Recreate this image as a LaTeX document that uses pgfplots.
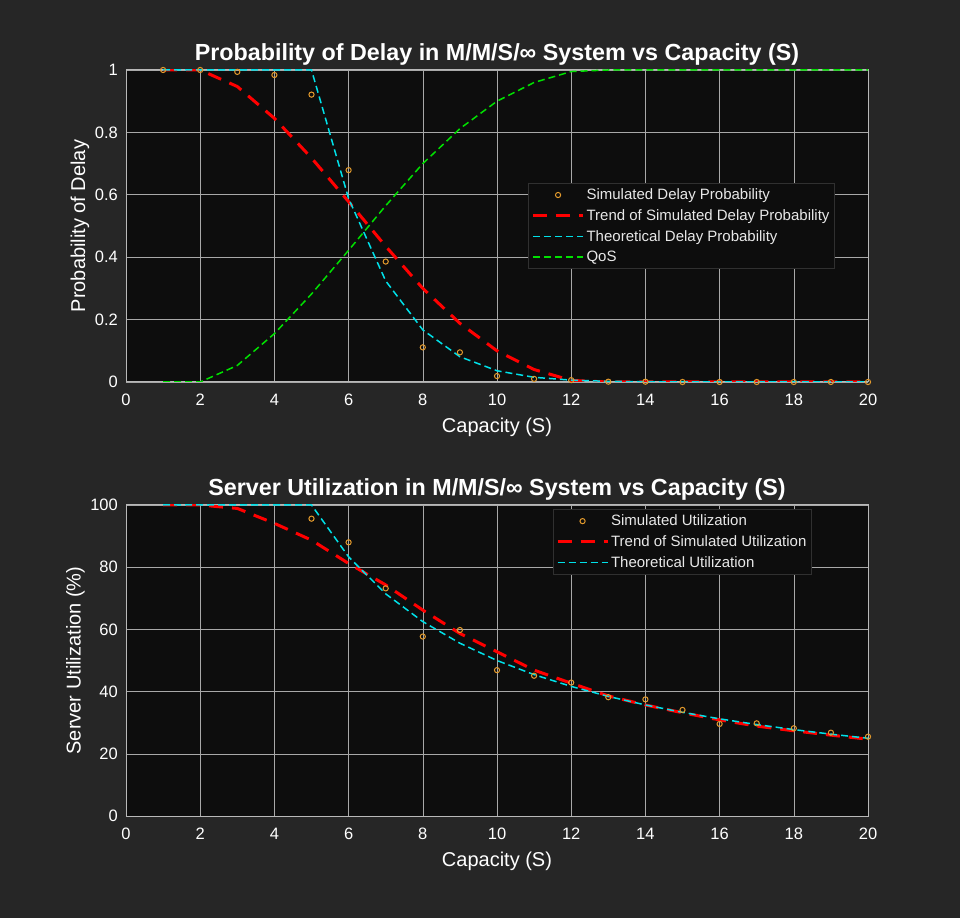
\documentclass[border=0pt]{standalone}
\usepackage{fontspec}
\setmainfont{Liberation Sans}
\usepackage{pgfplots}
\pgfplotsset{compat=1.18}
\definecolor{figbg}{HTML}{262626}
\definecolor{axbg}{HTML}{0D0D0D}
\definecolor{simorange}{HTML}{E39A2C}
\definecolor{gridc}{HTML}{A8A8A8}
\definecolor{boxc}{HTML}{B8B8B8}
\definecolor{cyanl}{HTML}{00E0E8}
\definecolor{qosgreen}{HTML}{00E000}
\definecolor{redl}{HTML}{FF0000}
\definecolor{legtxt}{HTML}{E8E8E8}
\definecolor{legbox}{HTML}{303030}

\pgfplotsset{
 mystyle/.style={
  scale only axis, width=742pt,
  xmin=0, xmax=20, xtick={0,2,...,20},
  axis background/.style={fill=axbg},
  axis line style={boxc, line width=1pt},
  grid=major, major grid style={gridc, line width=0.6pt},
  tick style={gridc, line width=0.6pt},
  tick align=inside, major tick length=5pt,
  ticklabel style={font=\fontsize{16.5}{18}\selectfont, text=white},
  xticklabel style={inner sep=0pt, yshift=-12pt},
  yticklabel style={inner sep=0pt, xshift=-8pt},
  /pgf/number format/assume math mode=true,
  xlabel style={font=\fontsize{20}{23}\selectfont, text=white, at={(axis description cs:0.5,0)}, anchor=center, yshift=-45pt},
  title style={font=\bfseries\fontsize{23.3}{26}\selectfont, text=white, at={(axis description cs:0.5,1)}, anchor=south, inner sep=0pt, yshift=-2pt},
  legend style={fill=axbg, draw=legbox, line width=0.8pt, text=legtxt, font=\fontsize{15}{17}\selectfont, row sep=4.4pt, inner xsep=3pt, inner ysep=3.5pt},
  legend cell align=left,
  legend image code/.code={\draw[mark repeat=2,mark phase=2,##1] plot coordinates {(0pt,0pt) (25pt,0pt) (50pt,0pt)};},
  clip=true,
 },
 simstyle/.style={only marks, mark=o, mark size=2.6pt, simorange, line width=1pt,
  legend image code/.code={\draw[mark repeat=2,mark phase=2,##1] plot coordinates {(0pt,0pt) (25pt,0pt) (50pt,0pt)};}},
 trendstyle/.style={redl, line width=3pt, dash pattern=on 14pt off 9pt},
 theostyle/.style={cyanl, line width=1.5pt, dash pattern=on 7pt off 4pt},
 qosstyle/.style={color=qosgreen, draw=qosgreen, line width=1.5pt, dash pattern=on 7pt off 4pt},
}

\begin{document}
\begin{tikzpicture}[x=1pt,y=1pt]
\fill[figbg] (0,0) rectangle (960,918);

% ---------------- Top axis ----------------
\begin{axis}[mystyle,
  at={(126pt,536pt)}, anchor=south west, height=312pt,
  ymin=0, ymax=1, ytick={0,0.2,...,1.0},
  yticklabel style={/pgf/number format/fixed},
  title={Probability of Delay in M/M/S/∞ System vs Capacity (S)},
  xlabel={Capacity (S)},
  ylabel={Probability of Delay},
  ylabel style={font=\fontsize{20}{23}\selectfont, text=white, at={(axis description cs:-0.062,0.5)}, anchor=center},
  legend style={at={(0.542,0.638)}, anchor=north west},
]
\addplot[simstyle] coordinates {
(1,1.000)(2,1.000)(3,0.994)(4,0.984)(5,0.921)(6,0.679)(7,0.386)(8,0.111)(9,0.095)(10,0.019)
(11,0.010)(12,0.006)(13,0.001)(14,0.001)(15,0)(16,0)(17,0)(18,0)(19,0)(20,0)};
\addlegendentry{Simulated Delay Probability}
\addplot[trendstyle] coordinates {
(1,1.000)(2,1.000)(3,0.947)(4,0.845)(5,0.718)(6,0.578)(7,0.435)(8,0.300)(9,0.188)(10,0.100)
(11,0.040)(12,0.005)(13,0)(14,0)(15,0)(16,0)(17,0)(18,0)(19,0)(20,0)};
\addlegendentry{Trend of Simulated Delay Probability}
\addplot[theostyle] coordinates {
(1,1)(2,1)(3,1)(4,1)(5,1)(6,0.588)(7,0.324)(8,0.167)(9,0.081)(10,0.036)
(11,0.015)(12,0.006)(13,0.002)(14,0.001)(15,0)(16,0)(17,0)(18,0)(19,0)(20,0)};
\addlegendentry{Theoretical Delay Probability}
\addplot[qosstyle] coordinates {
(1,0)(2,0)(3,0.053)(4,0.155)(5,0.282)(6,0.422)(7,0.565)(8,0.700)(9,0.812)(10,0.900)
(11,0.960)(12,0.995)(13,1)(14,1)(15,1)(16,1)(17,1)(18,1)(19,1)(20,1)};
\addlegendentry{QoS}
\end{axis}

% ---------------- Bottom axis ----------------
\begin{axis}[mystyle,
  at={(126pt,102pt)}, anchor=south west, height=311pt,
  ymin=0, ymax=100, ytick={0,20,...,100},
  title={Server Utilization in M/M/S/∞ System vs Capacity (S)},
  xlabel={Capacity (S)},
  ylabel={Server Utilization (\%)},
  ylabel style={font=\fontsize{20}{23}\selectfont, text=white, at={(axis description cs:-0.068,0.5)}, anchor=center},
  legend style={at={(0.575,0.987)}, anchor=north west},
]
\addplot[simstyle] coordinates {
(5,95.6)(6,88.0)(7,73.2)(8,57.7)(9,59.8)(10,46.9)(11,45.1)(12,42.9)(13,38.2)(14,37.5)
(15,34.1)(16,29.6)(17,29.8)(18,28.2)(19,26.8)(20,25.5)};
\addlegendentry{Simulated Utilization}
\addplot[trendstyle] coordinates {
(1,100)(2,100)(3,98.9)(4,94.1)(5,88.7)(6,81.2)(7,74.3)(8,66.2)(9,58.7)(10,52.8)
(11,46.9)(12,42.7)(13,38.6)(14,35.7)(15,33.2)(16,30.9)(17,28.9)(18,27.4)(19,26.0)(20,24.7)};
\addlegendentry{Trend of Simulated Utilization}
\addplot[theostyle] coordinates {
(1,100)(2,100)(3,100)(4,100)(5,100)(6,83.33)(7,71.43)(8,62.5)(9,55.56)(10,50)
(11,45.45)(12,41.67)(13,38.46)(14,35.71)(15,33.33)(16,31.25)(17,29.41)(18,27.78)(19,26.32)(20,25)};
\addlegendentry{Theoretical Utilization}
\end{axis}
\end{tikzpicture}
\end{document}
